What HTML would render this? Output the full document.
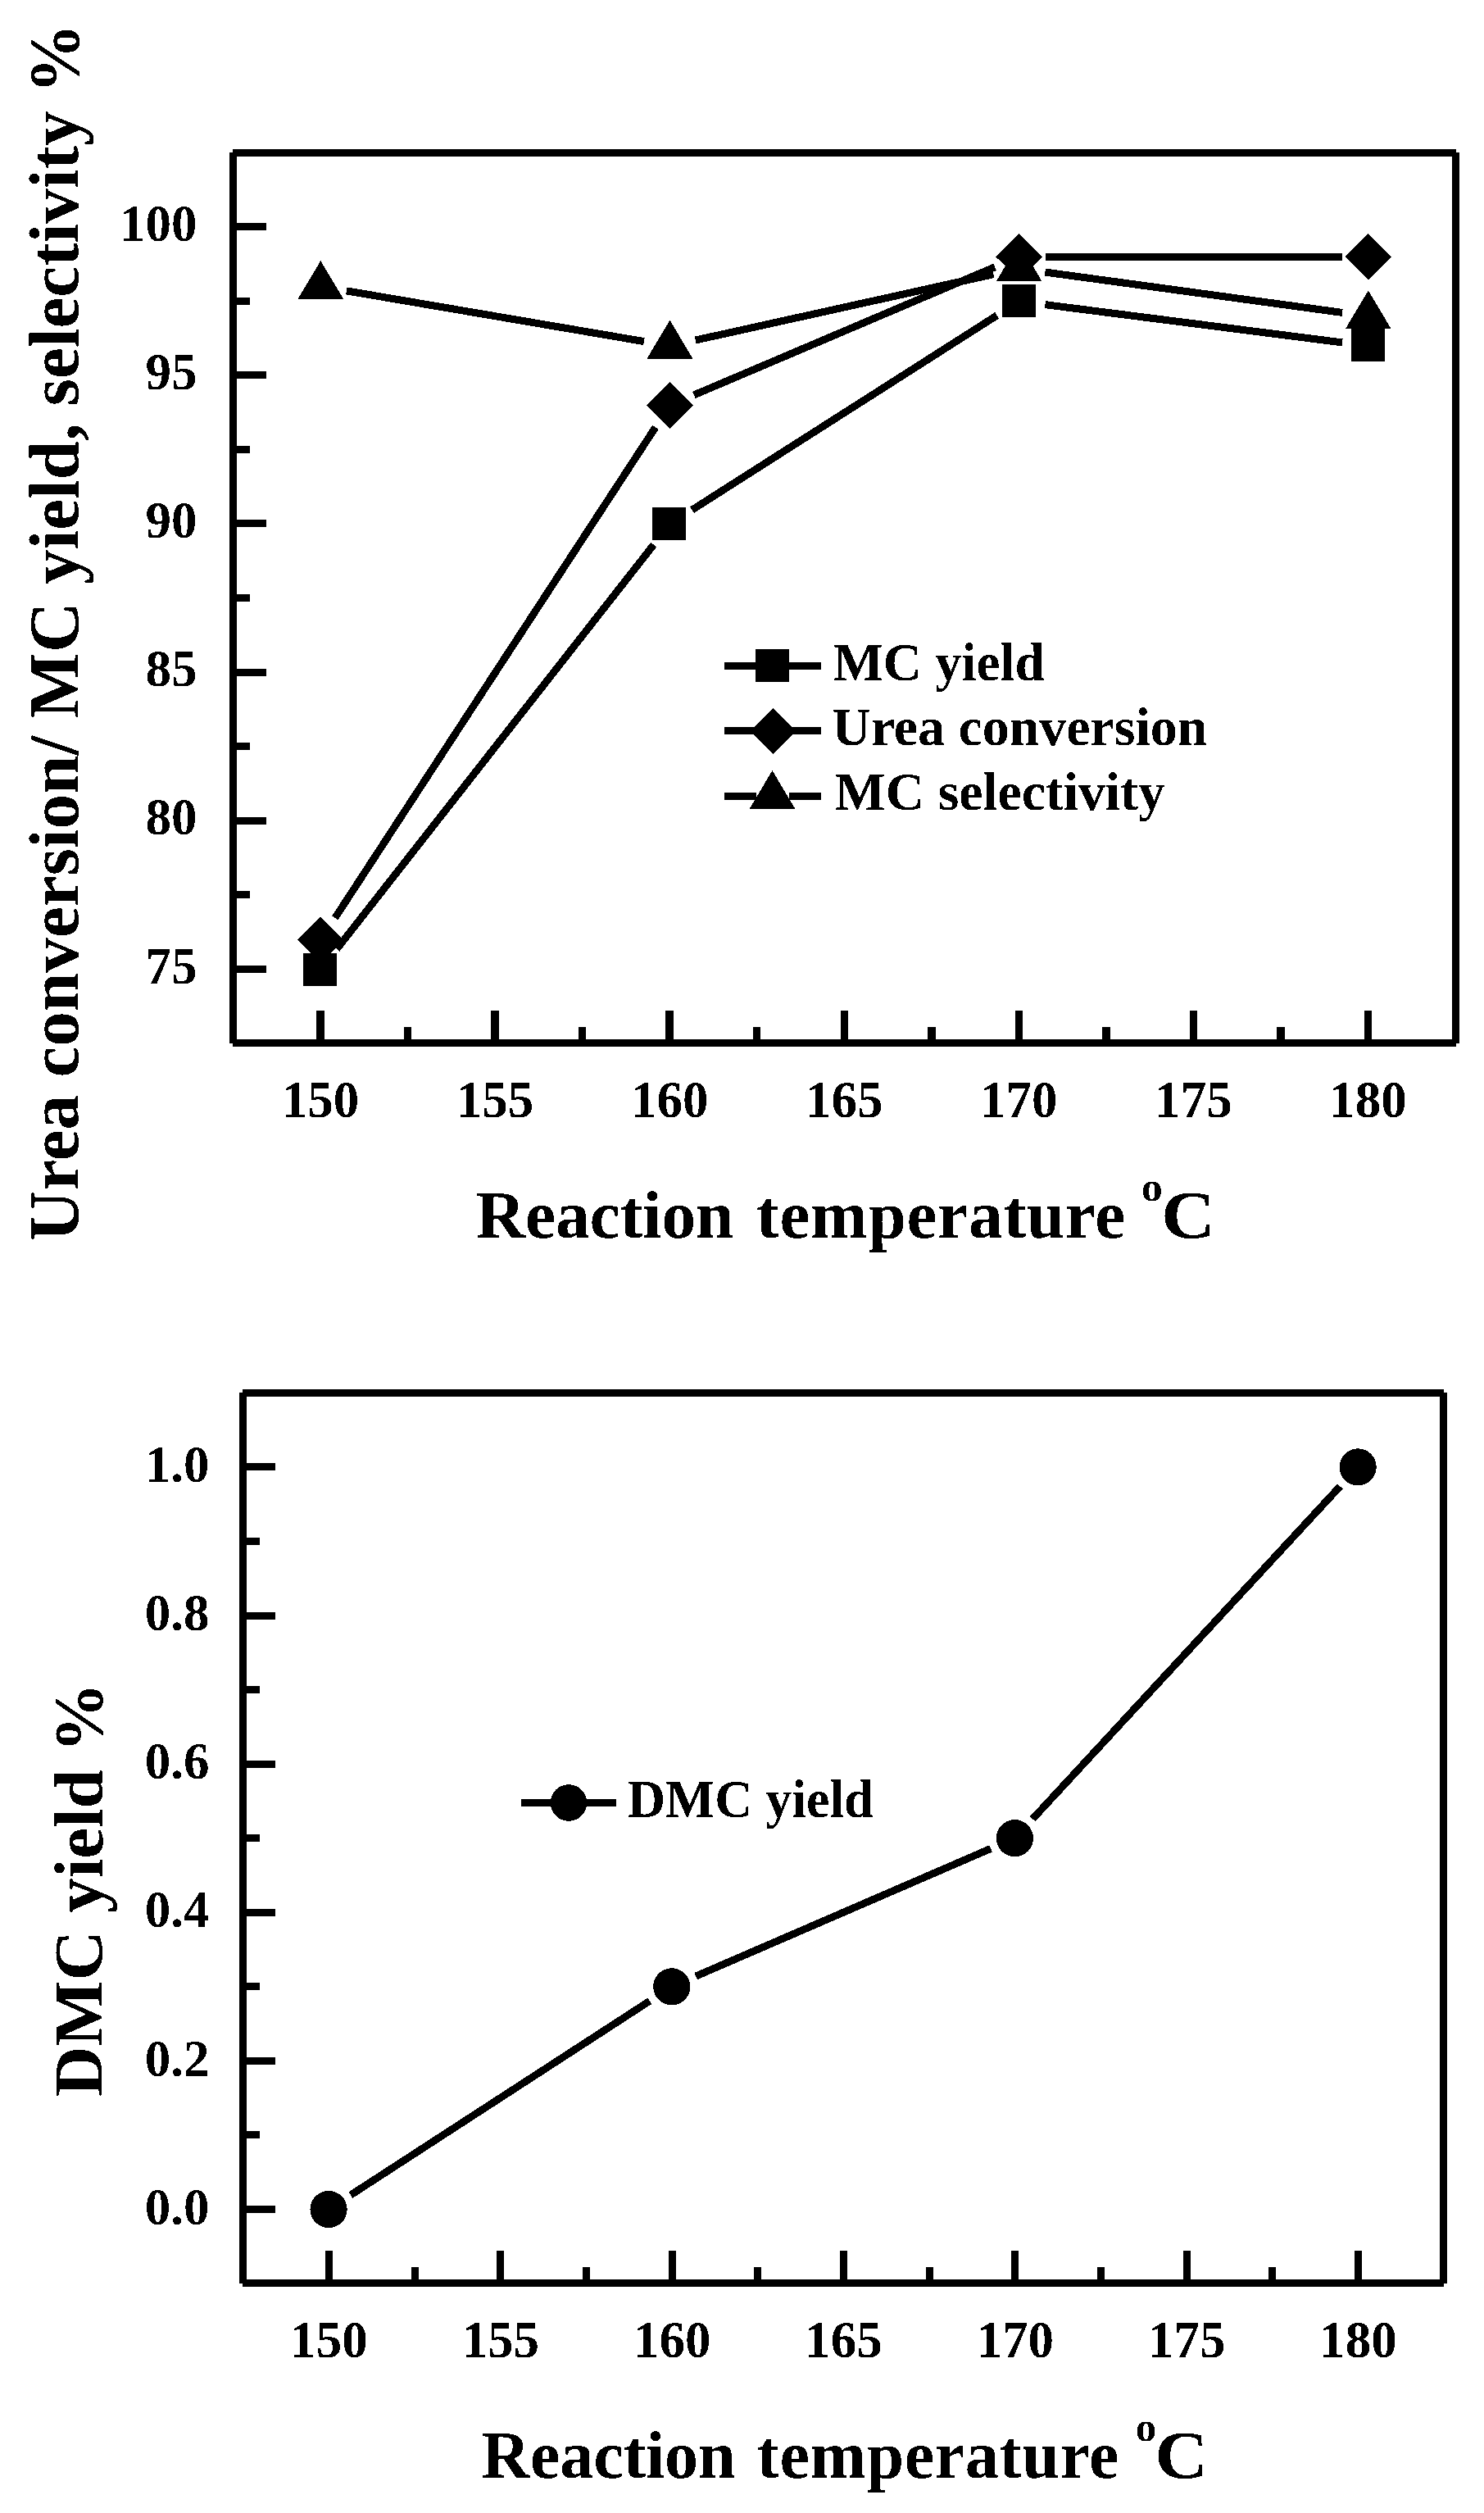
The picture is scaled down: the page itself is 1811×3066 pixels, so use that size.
<!DOCTYPE html>
<html lang="en">
<head>
<meta charset="utf-8">
<title>Effect of reaction temperature</title>
<style>
html,body{margin:0;padding:0;background:#fff;}
body{width:1811px;height:3066px;overflow:hidden;}
svg{display:block;}
svg text{font-family:"Liberation Serif", "DejaVu Serif", serif;font-weight:bold;fill:#000;stroke:none;filter:url(#bilevel);}
svg line{stroke:#000;stroke-linecap:butt;}
svg rect,svg polygon,svg circle{fill:#000;stroke:none;}
svg line,svg rect,svg polygon,svg circle{shape-rendering:crispEdges;}
</style>
</head>
<body>
<svg width="1811" height="3066" viewBox="0 0 1811 3066">
<defs>
<filter id="bilevel" x="-5%" y="-5%" width="110%" height="110%" color-interpolation-filters="sRGB">
<feComponentTransfer><feFuncA type="discrete" tableValues="0 1"/></feComponentTransfer>
</filter>
</defs>
<rect x="0" y="0" width="1811" height="3066" style="fill:#fff"/>
<g id="plot1">
<rect x="280.00" y="186.00" width="9.00" height="1087.00"/>
<rect x="1772.00" y="186.00" width="9.00" height="1087.00"/>
<rect x="284.00" y="182.00" width="1493.00" height="9.00"/>
<rect x="284.00" y="1268.00" width="1493.00" height="9.00"/>
<rect x="386.00" y="1233.00" width="10.00" height="39.50"/>
<rect x="493.00" y="1253.00" width="9.00" height="19.50"/>
<rect x="599.00" y="1233.00" width="10.00" height="39.50"/>
<rect x="706.00" y="1253.00" width="9.00" height="19.50"/>
<rect x="812.00" y="1233.00" width="10.00" height="39.50"/>
<rect x="919.00" y="1253.00" width="9.00" height="19.50"/>
<rect x="1026.00" y="1233.00" width="9.00" height="39.50"/>
<rect x="1132.00" y="1253.00" width="10.00" height="19.50"/>
<rect x="1239.00" y="1233.00" width="9.00" height="39.50"/>
<rect x="1345.00" y="1253.00" width="10.00" height="19.50"/>
<rect x="1452.00" y="1233.00" width="9.00" height="39.50"/>
<rect x="1558.00" y="1253.00" width="10.00" height="19.50"/>
<rect x="1665.00" y="1233.00" width="9.00" height="39.50"/>
<rect x="284.50" y="1178.00" width="40.50" height="9.00"/>
<rect x="284.50" y="1087.00" width="20.50" height="9.00"/>
<rect x="284.50" y="997.00" width="40.50" height="9.00"/>
<rect x="284.50" y="906.00" width="20.50" height="9.00"/>
<rect x="284.50" y="816.00" width="40.50" height="9.00"/>
<rect x="284.50" y="725.00" width="20.50" height="9.00"/>
<rect x="284.50" y="634.00" width="40.50" height="9.00"/>
<rect x="284.50" y="544.00" width="20.50" height="9.00"/>
<rect x="284.50" y="453.00" width="40.50" height="9.00"/>
<rect x="284.50" y="363.00" width="20.50" height="9.00"/>
<rect x="284.50" y="272.00" width="40.50" height="9.00"/>
<text id="x1_150" transform="translate(391.00,1363.00)" font-size="63.00" text-anchor="middle" >150</text>
<text id="x1_155" transform="translate(604.08,1363.00)" font-size="63.00" text-anchor="middle" >155</text>
<text id="x1_160" transform="translate(817.17,1363.00)" font-size="63.00" text-anchor="middle" >160</text>
<text id="x1_165" transform="translate(1030.25,1363.00)" font-size="63.00" text-anchor="middle" >165</text>
<text id="x1_170" transform="translate(1243.33,1363.00)" font-size="63.00" text-anchor="middle" >170</text>
<text id="x1_175" transform="translate(1456.42,1363.00)" font-size="63.00" text-anchor="middle" >175</text>
<text id="x1_180" transform="translate(1669.50,1363.00)" font-size="63.00" text-anchor="middle" >180</text>
<text id="y1_75" transform="translate(240.50,1199.50)" font-size="63.00" text-anchor="end" >75</text>
<text id="y1_80" transform="translate(240.50,1018.30)" font-size="63.00" text-anchor="end" >80</text>
<text id="y1_85" transform="translate(240.50,837.10)" font-size="63.00" text-anchor="end" >85</text>
<text id="y1_90" transform="translate(240.50,655.90)" font-size="63.00" text-anchor="end" >90</text>
<text id="y1_95" transform="translate(240.50,474.70)" font-size="63.00" text-anchor="end" >95</text>
<text id="y1_100" transform="translate(240.50,293.50)" font-size="63.00" text-anchor="end" >100</text>
<line x1="411.04" y1="1157.82" x2="797.72" y2="664.58" stroke-width="9.00"/>
<line x1="844.45" y1="622.19" x2="1216.65" y2="384.81" stroke-width="9.00"/>
<line x1="1275.38" y1="371.65" x2="1638.06" y2="417.91" stroke-width="9.00"/>
<rect x="370.30" y="1162.50" width="41.00" height="40.00"/>
<rect x="796.47" y="618.90" width="41.00" height="40.00"/>
<rect x="1222.63" y="347.10" width="41.00" height="40.00"/>
<rect x="1648.80" y="401.46" width="41.00" height="40.00"/>
<line x1="408.80" y1="1119.97" x2="799.96" y2="521.23" stroke-width="9.00"/>
<line x1="846.92" y1="481.92" x2="1214.18" y2="325.76" stroke-width="9.00"/>
<line x1="1275.63" y1="313.24" x2="1637.80" y2="313.24" stroke-width="9.00"/>
<polygon points="391.30,1118.56 419.70,1146.76 391.30,1174.96 362.90,1146.76"/>
<polygon points="817.47,466.24 845.87,494.44 817.47,522.64 789.07,494.44"/>
<polygon points="1243.63,285.04 1272.03,313.24 1243.63,341.44 1215.23,313.24"/>
<polygon points="1669.80,285.04 1698.20,313.24 1669.80,341.44 1641.40,313.24"/>
<line x1="422.85" y1="354.85" x2="785.92" y2="416.59" stroke-width="9.00"/>
<line x1="848.71" y1="415.05" x2="1212.39" y2="334.64" stroke-width="9.00"/>
<line x1="1275.34" y1="332.05" x2="1638.09" y2="381.41" stroke-width="9.00"/>
<polygon points="391.30,318.15 419.30,365.15 363.30,365.15"/>
<polygon points="817.47,390.63 845.47,437.63 789.47,437.63"/>
<polygon points="1243.63,296.40 1271.63,343.40 1215.63,343.40"/>
<polygon points="1669.80,354.39 1697.80,401.39 1641.80,401.39"/>
<line x1="884.00" y1="812.50" x2="922.50" y2="812.50" stroke-width="9.00" shape-rendering="crispEdges"/>
<line x1="962.50" y1="812.50" x2="1002.00" y2="812.50" stroke-width="9.00" shape-rendering="crispEdges"/>
<rect x="922.00" y="792.00" width="41.00" height="40.00"/>
<text id="leg1_0" transform="translate(1016.50,830.00)" font-size="65.00" text-anchor="start" >MC yield</text>
<line x1="884.00" y1="891.50" x2="923.00" y2="891.50" stroke-width="9.00" shape-rendering="crispEdges"/>
<line x1="963.00" y1="891.50" x2="1002.00" y2="891.50" stroke-width="9.00" shape-rendering="crispEdges"/>
<polygon points="943.00,864.00 971.00,892.00 943.00,920.00 915.00,892.00"/>
<text id="leg1_1" transform="translate(1015.20,908.80) scale(1.0140,1.0000)" font-size="65.00" text-anchor="start" >Urea conversion</text>
<line x1="884.00" y1="971.50" x2="922.50" y2="971.50" stroke-width="9.00" shape-rendering="crispEdges"/>
<line x1="962.50" y1="971.50" x2="1002.00" y2="971.50" stroke-width="9.00" shape-rendering="crispEdges"/>
<polygon points="942.50,940.07 970.50,987.07 914.50,987.07"/>
<text id="leg1_2" transform="translate(1018.80,987.80) scale(1.0106,1.0000)" font-size="65.00" text-anchor="start" >MC selectivity</text>
<text id="xt1" transform="translate(0,1509.60) scale(1.0149,1)" font-size="82.10" text-anchor="start"><tspan x="572.27">Reaction </tspan><tspan x="909.45" letter-spacing="0.760">temperature </tspan><tspan x="1372.65" dy="-44.40" font-size="50.90">o</tspan><tspan x="1396.30" dy="44.40" textLength="65.10" lengthAdjust="spacingAndGlyphs">C</tspan></text>
<text id="yt1" transform="translate(95.40,771.50) rotate(-90) scale(1.0000,1.0050)" font-size="85.27" text-anchor="middle" >Urea conversion/ MC yield, selectivity %</text>
</g>
<g id="plot2">
<rect x="292.00" y="1699.00" width="9.00" height="1087.00"/>
<rect x="1757.00" y="1699.00" width="9.00" height="1087.00"/>
<rect x="296.00" y="1695.00" width="1466.00" height="9.00"/>
<rect x="296.00" y="2781.00" width="1466.00" height="9.00"/>
<rect x="397.00" y="2746.00" width="9.00" height="39.50"/>
<rect x="502.00" y="2766.00" width="9.00" height="19.50"/>
<rect x="606.00" y="2746.00" width="9.00" height="39.50"/>
<rect x="711.00" y="2766.00" width="9.00" height="19.50"/>
<rect x="816.00" y="2746.00" width="9.00" height="39.50"/>
<rect x="920.00" y="2766.00" width="9.00" height="19.50"/>
<rect x="1025.00" y="2746.00" width="9.00" height="39.50"/>
<rect x="1130.00" y="2766.00" width="9.00" height="19.50"/>
<rect x="1234.00" y="2746.00" width="9.00" height="39.50"/>
<rect x="1339.00" y="2766.00" width="9.00" height="19.50"/>
<rect x="1444.00" y="2746.00" width="9.00" height="39.50"/>
<rect x="1548.00" y="2766.00" width="9.00" height="19.50"/>
<rect x="1653.00" y="2746.00" width="9.00" height="39.50"/>
<rect x="296.50" y="2691.00" width="39.50" height="9.00"/>
<rect x="296.50" y="2600.00" width="20.50" height="9.00"/>
<rect x="296.50" y="2510.00" width="39.50" height="9.00"/>
<rect x="296.50" y="2419.00" width="20.50" height="9.00"/>
<rect x="296.50" y="2329.00" width="39.50" height="9.00"/>
<rect x="296.50" y="2238.00" width="20.50" height="9.00"/>
<rect x="296.50" y="2148.00" width="39.50" height="9.00"/>
<rect x="296.50" y="2057.00" width="20.50" height="9.00"/>
<rect x="296.50" y="1967.00" width="39.50" height="9.00"/>
<rect x="296.50" y="1876.00" width="20.50" height="9.00"/>
<rect x="296.50" y="1785.00" width="39.50" height="9.00"/>
<text id="x2_150" transform="translate(401.50,2876.00)" font-size="63.00" text-anchor="middle" >150</text>
<text id="x2_155" transform="translate(610.83,2876.00)" font-size="63.00" text-anchor="middle" >155</text>
<text id="x2_160" transform="translate(820.17,2876.00)" font-size="63.00" text-anchor="middle" >160</text>
<text id="x2_165" transform="translate(1029.50,2876.00)" font-size="63.00" text-anchor="middle" >165</text>
<text id="x2_170" transform="translate(1238.83,2876.00)" font-size="63.00" text-anchor="middle" >170</text>
<text id="x2_175" transform="translate(1448.17,2876.00)" font-size="63.00" text-anchor="middle" >175</text>
<text id="x2_180" transform="translate(1657.50,2876.00)" font-size="63.00" text-anchor="middle" >180</text>
<text id="y2_0" transform="translate(255.50,2713.70)" font-size="63.00" text-anchor="end" >0.0</text>
<text id="y2_2" transform="translate(255.50,2532.58)" font-size="63.00" text-anchor="end" >0.2</text>
<text id="y2_4" transform="translate(255.50,2351.46)" font-size="63.00" text-anchor="end" >0.4</text>
<text id="y2_6" transform="translate(255.50,2170.34)" font-size="63.00" text-anchor="end" >0.6</text>
<text id="y2_8" transform="translate(255.50,1989.22)" font-size="63.00" text-anchor="end" >0.8</text>
<text id="y2_10" transform="translate(255.50,1808.10)" font-size="63.00" text-anchor="end" >1.0</text>
<line x1="427.94" y1="2678.08" x2="792.92" y2="2441.24" stroke-width="9.00"/>
<line x1="849.14" y1="2411.11" x2="1209.06" y2="2255.41" stroke-width="9.00"/>
<line x1="1260.16" y1="2219.20" x2="1635.38" y2="1813.40" stroke-width="9.00"/>
<circle cx="401.10" cy="2695.50" r="22.60"/>
<circle cx="819.77" cy="2423.82" r="22.60"/>
<circle cx="1238.43" cy="2242.70" r="22.60"/>
<circle cx="1657.10" cy="1789.90" r="22.60"/>
<line x1="636.00" y1="2199.50" x2="674.00" y2="2199.50" stroke-width="9.00" shape-rendering="crispEdges"/>
<line x1="714.00" y1="2199.50" x2="752.00" y2="2199.50" stroke-width="9.00" shape-rendering="crispEdges"/>
<circle cx="694.00" cy="2199.50" r="22.30"/>
<text id="leg2_0" transform="translate(766.00,2217.00) scale(0.9820,1.0000)" font-size="65.00" text-anchor="start" >DMC yield</text>
<text id="xt2" transform="translate(0,3022.50)" font-size="82.10" text-anchor="start"><tspan x="587.60">Reaction </tspan><tspan x="923.50" letter-spacing="0.590">temperature </tspan><tspan x="1385.80" dy="-44.30" font-size="50.90">o</tspan><tspan x="1409.20" dy="44.30" textLength="65.10" lengthAdjust="spacingAndGlyphs">C</tspan></text>
<text id="yt2" transform="translate(124.90,2305.50) rotate(-90)" font-size="85.00" text-anchor="middle" >DMC yield %</text>
</g>
</svg>
</body>
</html>
